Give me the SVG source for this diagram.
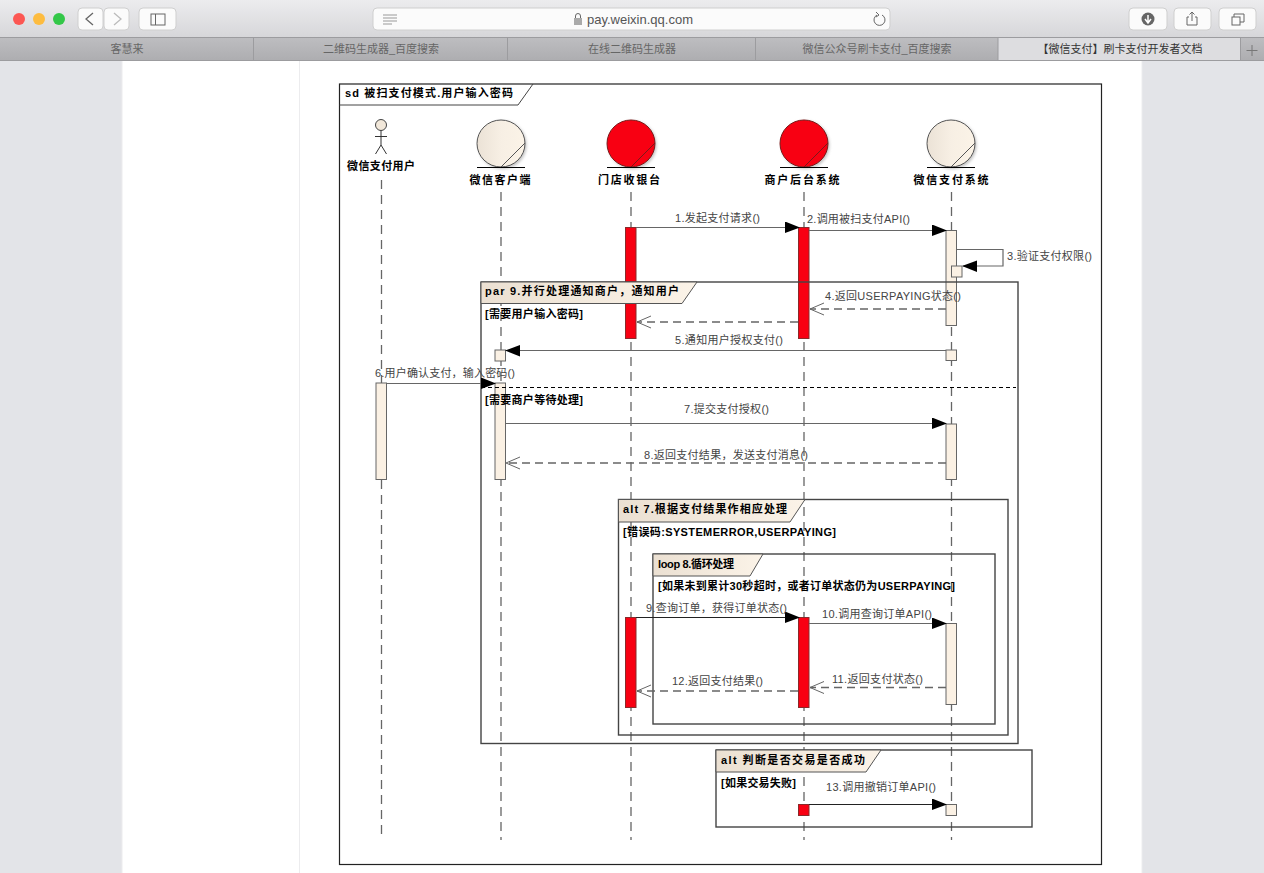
<svg xmlns="http://www.w3.org/2000/svg" width="1264" height="873" viewBox="0 0 1264 873">
<style>
text{font-family:"Liberation Sans","Noto Sans CJK SC",sans-serif}
.msg{font-size:11px;fill:#444}
.nm{font-size:11px;font-weight:bold;fill:#000;text-anchor:middle}
.fr{font-size:11px;font-weight:bold;fill:#000}
.tab{font-size:11px;fill:#666;text-anchor:middle}
.frame{fill:none;stroke:#444;stroke-width:1.4}
.ftab{fill:url(#beige);stroke:#555;stroke-width:1}
.life{stroke:#666;stroke-width:1.3;stroke-dasharray:9 6;fill:none}
.ac{fill:#fbf1e4;stroke:#666;stroke-width:1}
.red{fill:#f80012;stroke:#8a2a2a;stroke-width:1}
.s{stroke:#666;stroke-width:1.2;fill:none}
.d{stroke:#666;stroke-width:1.3;stroke-dasharray:8 5;fill:none}
.btn{fill:#fbfbfb;stroke:#cfcfcf;stroke-width:1}
.ic{fill:none;stroke:#666;stroke-width:1}
</style>
<defs>
<linearGradient id="chrome" x1="0" y1="0" x2="0" y2="1"><stop offset="0" stop-color="#ececee"/><stop offset="1" stop-color="#d6d6d9"/></linearGradient>
<linearGradient id="tabs" x1="0" y1="0" x2="0" y2="1"><stop offset="0" stop-color="#bdbdc0"/><stop offset="1" stop-color="#adadb0"/></linearGradient>
<linearGradient id="beige" x1="0" y1="0" x2="1" y2="0"><stop offset="0" stop-color="#ebe0d2"/><stop offset="1" stop-color="#fbf3e8"/></linearGradient>
<linearGradient id="ball" x1="0" y1="0" x2="1" y2="0"><stop offset="0" stop-color="#ebe2d6"/><stop offset=".5" stop-color="#f7efe4"/><stop offset="1" stop-color="#fbf3e7"/></linearGradient>
<filter id="sh" x="-20%" y="-20%" width="140%" height="140%"><feGaussianBlur stdDeviation="1.5"/></filter>
<marker id="fa" markerUnits="userSpaceOnUse" markerWidth="16" markerHeight="12" refX="14" refY="6" orient="auto"><path d="M0 0L15 6L0 11.5Z" fill="#000"/></marker>
<marker id="oa" markerUnits="userSpaceOnUse" markerWidth="16" markerHeight="14" refX="15" refY="7" orient="auto"><path d="M1 1L15 7L1 13" fill="none" stroke="#666" stroke-width="1"/></marker>
</defs>

<g id="browser">
<rect width="1264" height="873" fill="#fff"/>
<rect x="0" y="61" width="122" height="812" fill="#e3e4e8"/>
<rect x="1142" y="61" width="122" height="812" fill="#e3e4e8"/>
<path d="M122 61V873M299.500 61V873M1142 61V873" stroke="#ececee" fill="none"/>
<rect width="1264" height="38" fill="url(#chrome)"/>
<rect y="38" width="1264" height="23" fill="url(#tabs)"/>
<rect x="998" y="38" width="243" height="23" fill="#dddde0"/>
<path d="M0 37.500H1264M0 60.500H1264M253.500 38V60M507.500 38V60M755.500 38V60M998 38V60M1240.500 38V60" stroke="#9c9c9f" fill="none"/>
<circle cx="19" cy="19" r="6" fill="#fc5753"/><circle cx="39" cy="19" r="6" fill="#fdbc40"/><circle cx="59" cy="19" r="6" fill="#33c748"/>
<rect class="btn" x="78" y="8" width="25" height="22" rx="4"/><rect class="btn" x="104" y="8" width="25" height="22" rx="4"/>
<path d="M93 13L86 19L93 25" fill="none" stroke="#666" stroke-width="1.300"/><path d="M114 13L121 19L114 25" fill="none" stroke="#bbb" stroke-width="1.300"/>
<rect class="btn" x="139" y="8" width="37" height="22" rx="4"/><rect class="ic" x="151" y="14" width="14" height="11"/><path class="ic" d="M155.500 14V25"/>
<rect class="btn" x="373" y="8" width="517" height="22" rx="4"/>
<path d="M383 15H397M383 18H397M383 21H397M383 24H392" stroke="#999" fill="none"/>
<rect x="574" y="18" width="8" height="7" fill="#aaa"/><path d="M575.500 18V16A2.500 2.500 0 0 1 580.500 16V18" class="ic"/>
<text x="587" y="24" font-size="13" fill="#555">pay.weixin.qq.com</text>
<path d="M882 15A5.500 5.500 0 1 1 877 15" class="ic"/><path d="M876 12L879 15L876 17" class="ic"/>
<rect class="btn" x="1129" y="8" width="38" height="22" rx="4"/><rect class="btn" x="1174" y="8" width="37" height="22" rx="4"/><rect class="btn" x="1219" y="8" width="37" height="22" rx="4"/>
<circle cx="1148" cy="19" r="6.500" fill="#666"/><path d="M1148 15V22M1145 19L1148 23L1151 19" stroke="#fff" stroke-width="1.500" fill="none"/>
<path class="ic" d="M1189 17H1187V25H1197V17H1195M1192 12V21M1189.500 14.500L1192 12L1194.500 14.500"/>
<rect class="ic" x="1232" y="17" width="8" height="8"/><path class="ic" d="M1234 17V14H1244V22H1240"/>
<text class="tab" x="127" y="53">客慧来</text>
<text class="tab" x="381" y="53">二维码生成器_百度搜索</text>
<text class="tab" x="632" y="53">在线二维码生成器</text>
<text class="tab" x="877" y="53">微信公众号刷卡支付_百度搜索</text>
<text class="tab" x="1120" y="53" style="fill:#333">【微信支付】刷卡支付开发者文档</text>
<path d="M1252 45V56M1246.500 50.500H1257.500" stroke="#777" fill="none"/>
</g>

<g id="frame-sd">
<rect x="339.500" y="84" width="762" height="780.500" fill="#fff" stroke="#222" stroke-width="1.200"/>
<path d="M339.500 105H518L533 84" fill="none" stroke="#444"/>
<text class="fr" x="345" y="97" textLength="168" lengthAdjust="spacing">sd 被扫支付模式.用户输入密码</text>
</g>

<g id="lifelines">
<path class="life" d="M381.500 180V838"/>
<path class="life" d="M501 192V840"/>
<path class="life" d="M631 192V840"/>
<path class="life" d="M804 192V840"/>
<path class="life" d="M951.500 192V840"/>
</g>

<g id="actor-user">
<circle cx="381" cy="125" r="5.500" fill="#f2e8da" stroke="#444"/>
<path d="M381 130.500V145M375 136.500H387M381 145L375.500 154M381 145L386.500 154" fill="none" stroke="#333"/>
<text class="nm" x="381" y="170" textLength="68" lengthAdjust="spacing">微信支付用户</text>
</g>
<g id="node-client">
<ellipse cx="502.500" cy="145" rx="24" ry="24" fill="#999" opacity=".6" filter="url(#sh)"/>
<ellipse cx="501" cy="143.500" rx="24" ry="23.500" fill="url(#ball)" stroke="#555"/>
<path d="M525 143L501 167" stroke="#555" fill="none"/><path d="M477 167.500H525" stroke="#000" fill="none"/>
<text class="nm" x="500" y="184" textLength="61" lengthAdjust="spacing">微信客户端</text>
</g>
<g id="node-pos">
<ellipse cx="632.500" cy="145" rx="24" ry="24" fill="#999" opacity=".6" filter="url(#sh)"/>
<ellipse cx="631" cy="143.500" rx="24" ry="23.500" fill="#f80012" stroke="#7a1a1a"/>
<path d="M655 143L631 167" stroke="#7a1a1a" fill="none"/><path d="M607 167.500H655" stroke="#000" fill="none"/>
<text class="nm" x="629" y="184" textLength="62" lengthAdjust="spacing">门店收银台</text>
</g>
<g id="node-merchant">
<ellipse cx="805.500" cy="145" rx="24" ry="24" fill="#999" opacity=".6" filter="url(#sh)"/>
<ellipse cx="804" cy="143.500" rx="24" ry="23.500" fill="#f80012" stroke="#7a1a1a"/>
<path d="M828 143L804 167" stroke="#7a1a1a" fill="none"/><path d="M780 167.500H828" stroke="#000" fill="none"/>
<text class="nm" x="802" y="184" textLength="75" lengthAdjust="spacing">商户后台系统</text>
</g>
<g id="node-wxpay">
<ellipse cx="952.500" cy="145" rx="24" ry="24" fill="#999" opacity=".6" filter="url(#sh)"/>
<ellipse cx="951" cy="143.500" rx="24" ry="23.500" fill="url(#ball)" stroke="#555"/>
<path d="M975 143L951 167" stroke="#555" fill="none"/><path d="M927 167.500H975" stroke="#000" fill="none"/>
<text class="nm" x="951" y="184" textLength="75" lengthAdjust="spacing">微信支付系统</text>
</g>

<g id="activations">
<rect class="red" x="625.500" y="227.500" width="10.500" height="111"/>
<rect class="red" x="798.500" y="227.500" width="10.500" height="111"/>
<rect class="ac" x="946" y="230.500" width="10.500" height="95"/>
<rect class="ac" x="951.500" y="266" width="10.500" height="11"/>
<rect class="ac" x="495" y="350" width="10.500" height="11"/>
<rect class="ac" x="946" y="350" width="10.500" height="10.500"/>
<rect class="ac" x="376" y="383" width="10.500" height="96.500"/>
<rect class="ac" x="495" y="383" width="10.500" height="96.500"/>
<rect class="ac" x="946" y="424" width="10.500" height="55.500"/>
<rect class="red" x="625.500" y="617.500" width="10.500" height="90"/>
<rect class="red" x="798.500" y="617.500" width="10.500" height="90"/>
<rect class="ac" x="946" y="623.500" width="10.500" height="81"/>
<rect class="red" x="798.500" y="804.500" width="10.500" height="11"/>
<rect class="ac" x="946" y="804.500" width="10.500" height="11"/>
</g>

<g id="frames">
<g id="frame-par">
<rect class="frame" x="481" y="282" width="537" height="461.500"/>
<path class="ftab" d="M481 282H697L682 303.500H481Z"/>
<text class="fr" x="485" y="295" textLength="194" lengthAdjust="spacing">par 9.并行处理通知商户，通知用户</text>
<text class="fr" x="485" y="318" textLength="98" lengthAdjust="spacing">[需要用户输入密码]</text>
<path d="M481 387.500H1016" stroke="#000" stroke-width="1" stroke-dasharray="4 3" fill="none"/>
<text class="fr" x="485" y="404" textLength="98" lengthAdjust="spacing">[需要商户等待处理]</text>
</g>
<g id="frame-alt-result">
<rect class="frame" x="618.500" y="499.500" width="389.500" height="235.500"/>
<path class="ftab" d="M618.500 499.500H805L790 522H618.500Z"/>
<text class="fr" x="623" y="513" textLength="164" lengthAdjust="spacing">alt 7.根据支付结果作相应处理</text>
<text class="fr" x="623" y="536" textLength="213" lengthAdjust="spacing">[错误码:SYSTEMERROR,USERPAYING]</text>
</g>
<g id="frame-loop">
<rect class="frame" x="653" y="554" width="342" height="170"/>
<path class="ftab" d="M653 554H763L750 576H653Z"/>
<text class="fr" x="658" y="568" textLength="76" lengthAdjust="spacing">loop 8.循环处理</text>
<text class="fr" x="658" y="590" textLength="297" lengthAdjust="spacing">[如果未到累计30秒超时，或者订单状态仍为USERPAYING]</text>
</g>
<g id="frame-alt-success">
<rect class="frame" x="716" y="750" width="316" height="77"/>
<path class="ftab" d="M716 750H881L866 772H716Z"/>
<text class="fr" x="721" y="764" textLength="144" lengthAdjust="spacing">alt 判断是否交易是否成功</text>
<text class="fr" x="721" y="787" textLength="75" lengthAdjust="spacing">[如果交易失败]</text>
</g>
</g>

<g id="connectors">
<path class="s" marker-end="url(#fa)" d="M636 227.500H799"/>
<path class="s" marker-end="url(#fa)" d="M809 230.500H946"/>
<path class="s" marker-end="url(#fa)" d="M957 249.500H1003V266H963"/>
<path class="d" marker-end="url(#oa)" d="M946 309H810"/>
<path class="d" marker-end="url(#oa)" d="M798 322H637"/>
<path class="s" marker-end="url(#fa)" d="M946 350.500H506"/>
<path class="s" marker-end="url(#fa)" d="M387 383.500H495"/>
<path class="s" marker-end="url(#fa)" d="M506 423.500H946"/>
<path class="d" marker-end="url(#oa)" d="M946 463H506"/>
<path class="s" style="stroke:#222" marker-end="url(#fa)" d="M636 617.500H799"/>
<path class="s" marker-end="url(#fa)" d="M809 623.500H946"/>
<path class="d" marker-end="url(#oa)" d="M946 687.500H810"/>
<path class="d" marker-end="url(#oa)" d="M798 691H637"/>
<path class="s" style="stroke:#222" marker-end="url(#fa)" d="M809 804.500H946"/>
<g id="connector-labels">
<text class="msg" x="675" y="222" textLength="85" lengthAdjust="spacing">1.发起支付请求()</text>
<text class="msg" x="807" y="223" textLength="103" lengthAdjust="spacing">2.调用被扫支付API()</text>
<text class="msg" x="1007" y="260" textLength="85" lengthAdjust="spacing">3.验证支付权限()</text>
<text class="msg" x="825" y="300" textLength="136" lengthAdjust="spacing">4.返回USERPAYING状态()</text>
<text class="msg" x="675" y="344" textLength="108" lengthAdjust="spacing">5.通知用户授权支付()</text>
<text class="msg" x="375" y="377" textLength="140" lengthAdjust="spacing">6.用户确认支付，输入密码()</text>
<text class="msg" x="684" y="413" textLength="85" lengthAdjust="spacing">7.提交支付授权()</text>
<text class="msg" x="644" y="459" textLength="164" lengthAdjust="spacing">8.返回支付结果，发送支付消息()</text>
<text class="msg" x="646" y="612" textLength="141" lengthAdjust="spacing">9.查询订单，获得订单状态()</text>
<text class="msg" x="822" y="618" textLength="110" lengthAdjust="spacing">10.调用查询订单API()</text>
<text class="msg" x="832" y="683" textLength="91" lengthAdjust="spacing">11.返回支付状态()</text>
<text class="msg" x="672" y="685" textLength="91" lengthAdjust="spacing">12.返回支付结果()</text>
<text class="msg" x="826" y="791" textLength="110" lengthAdjust="spacing">13.调用撤销订单API()</text>
</g>
</g>
</svg>
